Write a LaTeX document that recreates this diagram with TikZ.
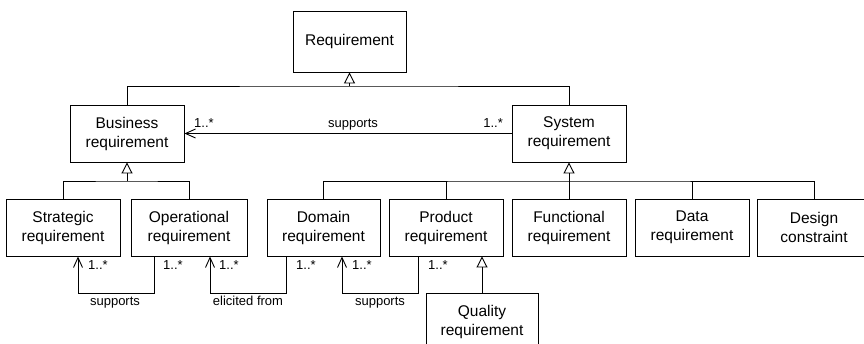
\documentclass[tikz,border=0pt]{standalone}
\usepackage{fontspec}
\setmainfont{Liberation Sans}
\usetikzlibrary{arrows.meta}
\begin{document}
\begin{tikzpicture}[x=1pt,y=-1pt,
  cls/.style={draw, line width=0.9pt, minimum width=114pt, minimum height=57pt, align=center, inner sep=0pt, font=\fontsize{15.5}{19}\selectfont},
  lbl/.style={font=\fontsize{13}{15}\selectfont, inner sep=0pt},
  conn/.style={line width=0.9pt},
  gen/.style={conn, -{Triangle[open, width=11pt, length=11pt, fill=white]}},
  assoc/.style={conn, -{Straight Barb[length=10pt, width=9pt]}}
]
\useasboundingbox (0,0) rectangle (864,344);
\fill[white] (0,0) rectangle (864,344);
\clip (0,0) rectangle (864,344);

% classes
\node[cls, minimum height=61pt, minimum width=113pt] (req) at (349.5,41.5) {Requirement};
\node[cls] (bus) at (127,133.5) {Business\\requirement};
\node[cls] (sys) at (569,133.5) {System\\requirement};
\node[cls] (str) at (63,227.5) {Strategic\\requirement};
\node[cls, minimum width=116pt] (ope) at (189,227.5) {Operational\\requirement};
\node[cls, minimum width=113pt] (dom) at (323.5,227.5) {Domain\\requirement};
\node[cls] (pro) at (446,227.5) {Product\\requirement};
\node[cls] (fun) at (569,227.5) {Functional\\requirement};
\node[cls] (dat) at (692,227.5) {Data\\requirement};
\node[cls] (des) at (814,227.5) {Design\\constraint};
\node[cls, minimum width=112pt] (qua) at (482,321.5) {Quality\\requirement};

% generalizations
\coordinate (j1) at (349.5,86);
\draw[conn] (bus.north) |- (j1) -| (sys.north);
\draw[gen] (j1) -- (req.south);

\coordinate (j2) at (127,181);
\draw[conn] (str.north) |- (j2) -| (ope.north);
\draw[gen] (j2) -- (bus.south);

\coordinate (j3) at (569,181);
\draw[conn] (dom.north) |- (j3) -| (des.north);
\draw[conn] (pro.north) -- (pro.north |- j3);
\draw[conn] (dat.north) -- (dat.north |- j3);
\draw[gen] (fun.north) -- (sys.south);

\draw[gen] (qua.north) -- (qua.north |- pro.south);

% associations
\draw[assoc] (sys.west) -- (bus.east);
\node[lbl, anchor=base west] (m1) at (194,128) {1..*};
\node[lbl, anchor=base] (t1) at (353,128) {supports};
\node[lbl, anchor=base east] (m2) at (503,128) {1..*};

\draw[assoc] ([xshift=-35pt]ope.south) -- ++(0,37) -| ([xshift=15pt]str.south);
\draw[assoc] ([xshift=-37.5pt]dom.south) -- ++(0,37) -| ([xshift=21pt]ope.south);
\draw[assoc] ([xshift=-28pt]pro.south) -- ++(0,37) -| ([xshift=18.5pt]dom.south);

\node[lbl, anchor=base west] (m3) at (88,270) {1..*};
\node[lbl, anchor=base west] (m4) at (163,270) {1..*};
\node[lbl, anchor=base west] (m5) at (219,270) {1..*};
\node[lbl, anchor=base west] (m6) at (296,270) {1..*};
\node[lbl, anchor=base west] (m7) at (352,270) {1..*};
\node[lbl, anchor=base west] (m8) at (428,270) {1..*};

\node[lbl, anchor=base] (t2) at (115,306) {supports};
\node[lbl, anchor=base] (t3) at (248,306) {elicited from};
\node[lbl, anchor=base] (t4) at (380,306) {supports};
\end{tikzpicture}
\end{document}
